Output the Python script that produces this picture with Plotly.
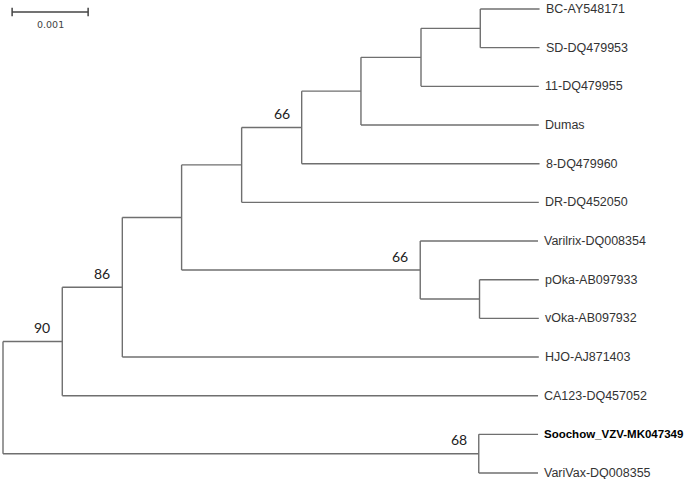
import plotly.graph_objects as go

# ---- data -------------------------------------------------------------
# leaf order, top to bottom
taxa = ["BC-AY548171", "SD-DQ479953", "11-DQ479955", "Dumas", "8-DQ479960",
        "DR-DQ452050", "Varilrix-DQ008354", "pOka-AB097933", "vOka-AB097932",
        "HJO-AJ871403", "CA123-DQ457052", "Soochow_VZV-MK047349", "VariVax-DQ008355"]

# tree edges: child, parent, branch length (substitutions/site)
edge_child = ["n1", "nS", "n2", "CA123-DQ457052", "n3", "HJO-AJ871403",
              "n4", "nV", "n5", "DR-DQ452050", "n6", "8-DQ479960",
              "n7", "Dumas", "n8", "11-DQ479955", "BC-AY548171", "SD-DQ479953",
              "Varilrix-DQ008354", "nP", "pOka-AB097933", "vOka-AB097932",
              "Soochow_VZV-MK047349", "VariVax-DQ008355"]
edge_parent = ["root", "root", "n1", "n1", "n2", "n2",
               "n3", "n3", "n4", "n4", "n5", "n5",
               "n6", "n6", "n7", "n7", "n8", "n8",
               "nV", "nV", "nP", "nP",
               "nS", "nS"]
edge_length = [0.00078, 0.00626, 0.00079, 0.00626, 0.00078, 0.00548,
               0.00079, 0.00314, 0.00079, 0.00391, 0.00078, 0.00313,
               0.00079, 0.00234, 0.00078, 0.00155, 0.00078, 0.00078,
               0.00155, 0.00078, 0.00078, 0.00078,
               0.00078, 0.00078]

# bootstrap support values
bootstrap_node = ["n1", "n2", "nV", "n5", "nS"]
bootstrap_value = ["90", "86", "66", "66", "68"]

highlight_taxon = "Soochow_VZV-MK047349"
scale_length = 0.001
scale_label = "0.001"

# ---- layout of the tree --------------------------------------------------
children = {}
blen = {}
for c, p, l in zip(edge_child, edge_parent, edge_length):
    children.setdefault(p, []).append(c)
    blen[c] = l

xpos = {"root": 0.0}
ypos = {}
leaf_index = {t: i for i, t in enumerate(taxa)}


def place(node):
    for c in children.get(node, []):
        xpos[c] = xpos[node] + blen[c]
        place(c)
    if node in leaf_index:
        ypos[node] = leaf_index[node]
    else:
        ys = [ypos[c] for c in children[node]]
        ypos[node] = (min(ys) + max(ys)) / 2.0


place("root")

lx, ly = [], []
for node, kids in children.items():
    ys = [ypos[c] for c in kids]
    lx += [xpos[node], xpos[node], None]
    ly += [min(ys), max(ys), None]
    for c in kids:
        lx += [xpos[node], xpos[c], None]
        ly += [ypos[c], ypos[c], None]

fig = go.Figure()
fig.add_trace(go.Scatter(x=lx, y=ly, mode="lines",
                         line=dict(color="#6f6f6f", width=1.4),
                         hoverinfo="skip", showlegend=False))

# leaf labels
for t in taxa:
    bold = t == highlight_taxon
    fig.add_annotation(x=xpos[t], y=ypos[t], text=("<b>%s</b>" % t) if bold else t,
                       showarrow=False, xanchor="left", yanchor="middle", xshift=4,
                       font=dict(family="Liberation Sans, Arial",
                                 size=11.5 if bold else 12.5,
                                 color="#000000" if bold else "#333333"))

# bootstrap labels
for n, v in zip(bootstrap_node, bootstrap_value):
    fig.add_annotation(x=xpos[n], y=ypos[n], text=v, showarrow=False,
                       xanchor="center", yanchor="middle", xshift=-20, yshift=14,
                       font=dict(family="Lato, Open Sans", size=14, color="#222222"))

# scale bar
sb_x0 = 0.00012
sb_y = 0.08
fig.add_shape(type="line", x0=sb_x0, x1=sb_x0 + scale_length, y0=sb_y, y1=sb_y,
              line=dict(color="#444444", width=1.5))
for xx in (sb_x0, sb_x0 + scale_length):
    fig.add_shape(type="line", x0=xx, x1=xx, y0=sb_y - 0.11, y1=sb_y + 0.11,
                  line=dict(color="#444444", width=1.5))
fig.add_annotation(x=sb_x0 + scale_length / 2, y=sb_y, text=scale_label, showarrow=False,
                   yanchor="top", yshift=-5,
                   font=dict(family="DejaVu Sans", size=9.5, color="#444444"))

fig.update_layout(
    width=685, height=479,
    margin=dict(l=0, r=0, t=0, b=0),
    paper_bgcolor="white", plot_bgcolor="white",
    xaxis=dict(range=[-3 / 76000, 682 / 76000], visible=False, fixedrange=True),
    yaxis=dict(range=[(479 - 9) / 38.67, -9 / 38.67], visible=False, fixedrange=True),
)

fig.write_html("out.html", config={"displayModeBar": False},
               post_script="document.body.style.margin='0';document.body.style.padding='0';"
                           "document.body.style.overflow='hidden';")
